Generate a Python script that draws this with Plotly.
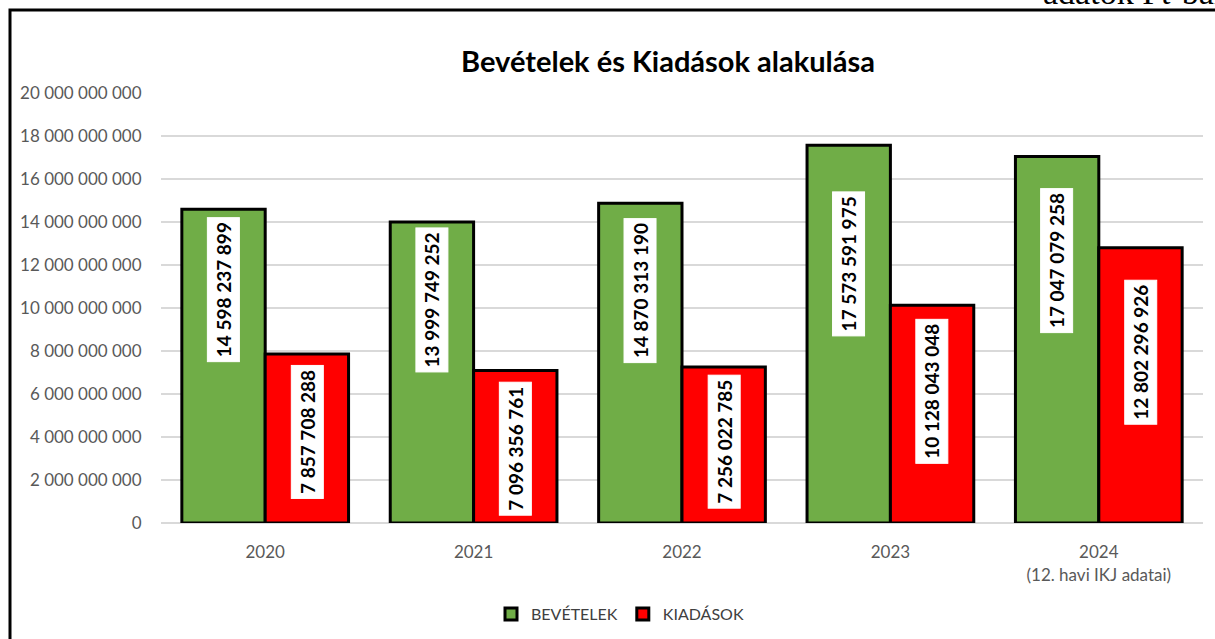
import plotly.graph_objects as go

# ---- data ----
years = ["2020", "2021", "2022", "2023", "2024"]
year_labels = ["2020", "2021", "2022", "2023", "2024<br>(12. havi IKJ adatai)"]
bevetelek = [14598237899, 13999749252, 14870313190, 17573591975, 17047079258]
kiadasok = [7857708288, 7096356761, 7256022785, 10128043048, 12802296926]
y_ticks = [0, 2e9, 4e9, 6e9, 8e9, 10e9, 12e9, 14e9, 16e9, 18e9, 20e9]

# ---- style ----
GREEN = "#70AD47"
RED = "#FF0000"
FONT = "Lato"
W, H = 1215, 639
ML, MR, MT, MB = 161, 12, 93, 116
PW, PH = W - ML - MR, H - MT - MB
# distance (px) of each value label from the top of its bar
shift_green = [8, 5, 15, 46, 32]
shift_red = [11, 11, 8, 14, 32]


def px_x(p):
    return (p - ML) / PW


def px_y(p):
    return (H - MB - p) / PH


def fmt(v):
    return f"{v:,}".replace(",", " ")


fig = go.Figure()
fig.add_trace(go.Bar(
    x=years, y=bevetelek, name="BEVÉTELEK",
    marker=dict(color=GREEN, line=dict(color="black", width=3)),
))
fig.add_trace(go.Bar(
    x=years, y=kiadasok, name="KIADÁSOK",
    marker=dict(color=RED, line=dict(color="black", width=3)),
))

annotations = []
for i, (g, r) in enumerate(zip(bevetelek, kiadasok)):
    for val, off, sh in ((g, -0.2, shift_green[i]), (r, 0.2, shift_red[i])):
        annotations.append(dict(
            x=i + off, y=val, xref="x", yref="y",
            text=fmt(val), textangle=-90, showarrow=False,
            xanchor="center", yanchor="top", yshift=-sh,
            bgcolor="white", borderpad=4, borderwidth=1, bordercolor="white",
            font=dict(family=FONT, size=19, color="black", weight="bold"),
        ))

annotations.append(dict(
    x=px_x(1041), y=px_y(13), xref="paper", yref="paper",
    text="adatok Ft-ban", showarrow=False, xanchor="left", yanchor="bottom",
    font=dict(family="Liberation Serif", size=34, color="black"),
))

fig.update_layout(
    width=W, height=H,
    margin=dict(l=ML, r=MR, t=MT, b=MB, pad=0, autoexpand=False),
    paper_bgcolor="white", plot_bgcolor="white",
    separators=", ",
    barmode="group", bargap=0.2, bargroupgap=0,
    title=dict(
        text="<b>Bevételek és Kiadások alakulása</b>",
        x=668 / W, xanchor="center", xref="container",
        y=1 - 62 / H, yanchor="middle", yref="container",
        font=dict(family=FONT, size=29, color="black"),
    ),
    xaxis=dict(
        tickmode="array", tickvals=years, ticktext=year_labels,
        ticks="outside", ticklen=14, tickcolor="rgba(0,0,0,0)",
        tickfont=dict(family=FONT, size=17, color="#595959"),
        showgrid=False, showline=False, zeroline=False,
    ),
    yaxis=dict(
        range=[0, 20e9], tickmode="array", tickvals=y_ticks,
        tickformat=",.0f",
        ticks="outside", ticklen=15, tickcolor="rgba(0,0,0,0)",
        tickfont=dict(family=FONT, size=17, color="#595959"),
        showgrid=True, gridcolor="#D9D9D9", gridwidth=1.5,
        zeroline=True, zerolinecolor="#D9D9D9", zerolinewidth=1.5,
        showline=False,
    ),
    legend=dict(
        orientation="h", x=620 / W, xanchor="center", xref="container",
        y=1 - 614 / H, yanchor="middle", yref="container",
        font=dict(family=FONT, size=16, color="#404040"),
        itemwidth=30,
    ),
    shapes=[dict(
        type="rect", xref="paper", yref="paper",
        x0=px_x(10), x1=px_x(1240), y0=px_y(10), y1=px_y(660),
        line=dict(color="black", width=3), fillcolor="rgba(0,0,0,0)",
        layer="above",
    )],
    annotations=annotations,
)

fig.write_html("out.html", config={"displayModeBar": False},
               post_script="document.body.style.margin='0';")
